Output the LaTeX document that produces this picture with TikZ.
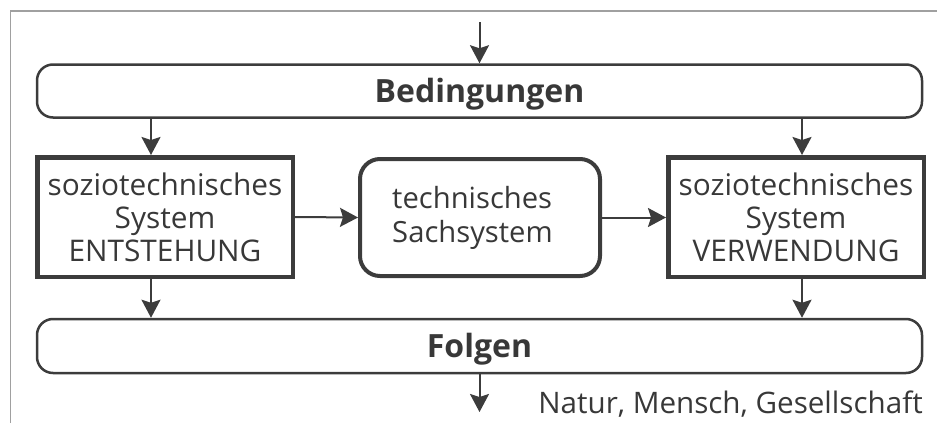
\documentclass[tikz,border=0pt]{standalone}
\usepackage{fontspec}
\setmainfont{Open Sans}
\usetikzlibrary{arrows.meta}
\definecolor{ln}{HTML}{3C3C3C}
\definecolor{tx}{HTML}{383838}
\definecolor{fr}{HTML}{A0A0A0}
\begin{document}
\begin{tikzpicture}[x=1pt,y=-1pt,
  wide/.style={draw=ln, line width=2.5pt, rounded corners=16pt, minimum width=885pt, minimum height=53pt, inner sep=0pt, text=tx, font=\fontsize{32}{36}\selectfont\bfseries, text height=22pt, text depth=0pt},
  sysbox/.style={draw=ln, line width=4.5pt, minimum width=255.5pt, minimum height=119.5pt, inner sep=0pt, align=center, text=tx, font=\fontsize{29.8}{33}\selectfont},
  techbox/.style={draw=ln, line width=4pt, rounded corners=20pt, minimum width=240pt, minimum height=117pt, inner sep=0pt, align=left, text=tx, font=\fontsize{29.2}{34}\selectfont},
  arr/.style={draw=ln, line width=2pt, -{Stealth[length=18pt,width=19pt,inset=3pt]}},
  plain/.style={inner sep=0pt, text=tx, font=\fontsize{29.6}{34}\selectfont}
]
\useasboundingbox (0,0) rectangle (937,423);
\draw[fr, line width=1.5pt] (10.5,423) -- (10.5,11) -- (937,11);

\node[wide] (B) at (479.5,91) {Bedingungen};
\node[wide, minimum height=54pt] (F) at (479.5,346) {Folgen};
\node[sysbox] (E) at (165,217) {soziotechnisches\\System\\ENTSTEHUNG};
\node[techbox] (M) at (480,217.5) {technisches\hspace*{15pt}\\Sachsystem\hspace*{15pt}};
\node[sysbox] (V) at (796,217) {soziotechnisches\\System\\VERWENDUNG};
\node[plain, anchor=base east] (N) at (923,413) {Natur, Mensch, Gesellschaft};

\coordinate (top) at (479.5,22);
\coordinate (bot) at (479.5,412);
\coordinate (cl) at (151,0);
\coordinate (cr) at (802,0);

\draw[arr] (top) -- (B.north);
\draw[arr] (B.south -| cl) -- (E.north -| cl);
\draw[arr] (B.south -| cr) -- (V.north -| cr);
\draw[arr] (E.south -| cl) -- (F.north -| cl);
\draw[arr] (V.south -| cr) -- (F.north -| cr);
\draw[arr] (E.east) -- (M.west);
\draw[arr] (M.east) -- (M.east -| V.west);
\draw[arr] (F.south) -- (bot);
\end{tikzpicture}
\end{document}
